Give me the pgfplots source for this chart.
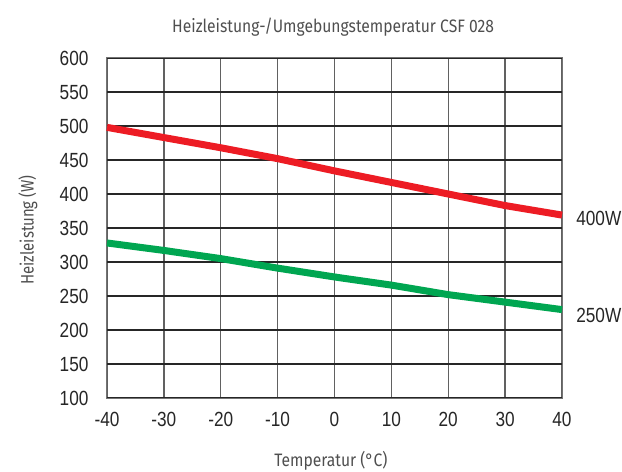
\documentclass[border=0pt]{standalone}
\usepackage{pgfplots}
\pgfplotsset{compat=1.18}
\usepackage{fontspec}
\setmainfont{Liberation Sans}[FakeStretch=0.84]
\newfontfamily\titlefont{Fira Sans}[FakeStretch=0.87]
\newfontfamily\ylabfont{Fira Sans}[FakeStretch=0.83]
\definecolor{cred}{HTML}{ED1C24}
\definecolor{cgreen}{HTML}{00A651}
\definecolor{ctitle}{HTML}{4F4F4F}
\begin{document}
\begin{tikzpicture}
\begin{axis}[
  name=ax, at={(0,0)}, anchor=south west,
  scale only axis, width=455pt, height=340pt,
  xmin=-40, xmax=40, ymin=100, ymax=600,
  xtick={-40,-30,...,40}, ytick={100,150,...,600},
  xticklabels={-40,-30,-20,-10,0,10,20,30,40},
  yticklabels={100,150,200,250,300,350,400,450,500,550,600},
  tick style={draw=none},
  ticklabel style={font=\fontsize{20.5}{23}\selectfont, text=black!85},
  yticklabel style={anchor=east, xshift=-15pt},
  xticklabel style={anchor=north, yshift=-11pt},
  axis line style={draw=black!55, line width=1pt},
  xmajorgrids, ymajorgrids,
  x grid style={draw=black!62, line width=1.4pt},
  y grid style={draw=black!85, line width=1.2pt},
  clip=false,
]
\addplot[cred, line width=7pt, line cap=butt] coordinates {
(-40,498) (-30,483) (-20,468) (-10,452) (0,434) (10,417) (20,400) (30,383) (40,369)};
\addplot[cgreen, line width=7pt, line cap=butt] coordinates {
(-40,328) (-30,317) (-20,305) (-10,291) (0,278) (10,266) (20,252) (30,241) (40,230)};
\node[font=\titlefont\fontsize{18}{20}\selectfont, text=ctitle] at (axis description cs:0.497,1.091) {Heizleistung-/Umgebungstemperatur CSF 028};
\node[font=\titlefont\fontsize{18}{20}\selectfont, text=ctitle] at (axis description cs:0.492,-0.184) {Temperatur (°C)};
\node[font=\ylabfont\fontsize{18}{20}\selectfont, text=ctitle, rotate=90] at (axis description cs:-0.174,0.494) {Heizleistung (W)};
\node[font=\fontsize{20.5}{23}\selectfont, text=black!85, anchor=west, inner sep=0pt] at (axis description cs:1.031,0.529) {400W};
\node[font=\fontsize{20.5}{23}\selectfont, text=black!85, anchor=west, inner sep=0pt] at (axis description cs:1.031,0.244) {250W};
\end{axis}
\path (ax.south west) ++(-107pt,-73pt) coordinate (bl);
\path (ax.north east) ++(60pt,58pt) coordinate (tr);
\pgfresetboundingbox
\useasboundingbox (bl) rectangle (tr);
\end{tikzpicture}
\end{document}
